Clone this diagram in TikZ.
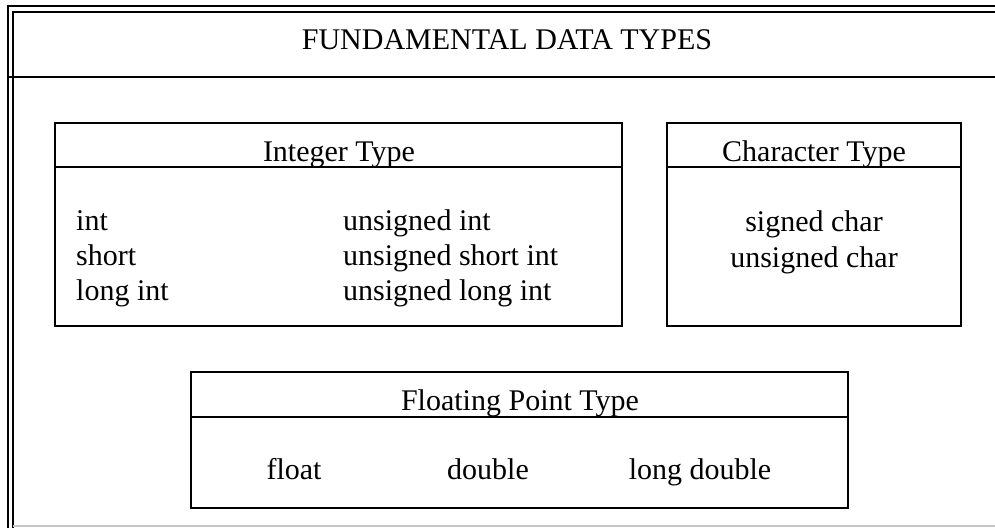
\documentclass[tikz,border=0pt]{standalone}
\usepackage{fontspec}
\setmainfont{Liberation Serif}
\begin{document}
\begin{tikzpicture}[x=1pt,y=-1pt, line width=2.4pt,
  lbl/.style={font=\fontsize{30}{36}\selectfont, inner sep=0pt, anchor=base},
  lblw/.style={lbl, anchor=base west},
  frameline/.style={line width=2pt}]
\useasboundingbox (0,0) rectangle (995,527);
\clip (0,0) rectangle (995,527);
% outer frame (double line on top and left)
\draw[frameline] (7.5,540) -- (7.5,6.5) -- (1010,6.5);
\draw[frameline] (13,540) -- (13,12) -- (1010,12);
\draw (8,77) -- (1010,77);
\draw[gray!45, line width=1.5pt] (13,526) -- (1010,526);
\node[lbl] (title) at (507,50) {FUNDAMENTAL DATA TYPES};
% integer type box
\draw (55,123) rectangle (622,326);
\draw (55,167) -- (622,167);
\node[lbl] (inttitle) at (339,161) {Integer Type};
\node[lblw] (i1) at (75,230) {int};
\node[lblw] (i2) at (75,265) {short};
\node[lblw] (i3) at (75,300) {long int};
\node[lblw] (u1) at (342,230) {unsigned int};
\node[lblw] (u2) at (342,265) {unsigned short int};
\node[lblw] (u3) at (342,300) {unsigned long int};
% character type box
\draw (667,123) rectangle (961,326);
\draw (667,167) -- (961,167);
\node[lbl] (chartitle) at (814,161) {Character Type};
\node[lbl] (c1) at (814,231) {signed char};
\node[lbl] (c2) at (814,267) {unsigned char};
% floating point type box
\draw (191,372) rectangle (848,508);
\draw (191,417) -- (848,417);
\node[lbl] (flttitle) at (520,410) {Floating Point Type};
\node[lbl] (f1) at (294,479) {float};
\node[lbl] (f2) at (488,479) {double};
\node[lbl] (f3) at (700,479) {long double};
\end{tikzpicture}
\end{document}
